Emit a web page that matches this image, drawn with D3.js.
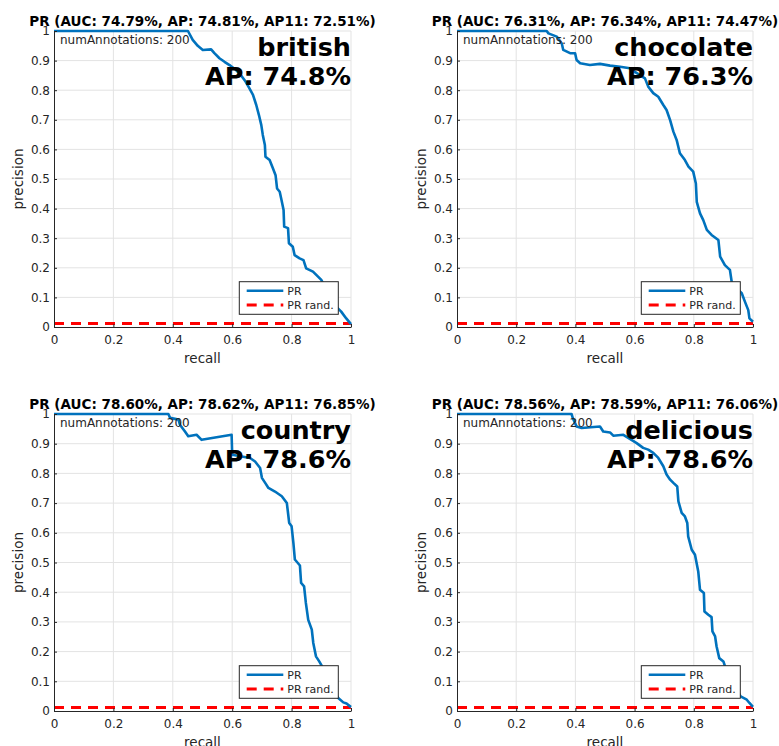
<!DOCTYPE html>
<html>
<head>
<meta charset="utf-8">
<script src="https://cdn.jsdelivr.net/npm/d3@7"></script>
<style>
	body { margin: 0; background: #fff; }
	text { font-family: "DejaVu Sans", sans-serif; }
</style>
</head>
<body>
<script>
// chart values
var categories = ["british", "chocolate", "country", "delicious"];
var aucValues = [74.79, 76.31, 78.60, 78.56];
var apValues = [74.81, 76.34, 78.62, 78.59];
var ap11Values = [72.51, 74.47, 76.85, 76.06];
var numAnnotations = [200, 200, 200, 200];
var randPrecision = 0.012;
var xTickValues = [0, 0.2, 0.4, 0.6, 0.8, 1];
var yTickValues = [0, 0.1, 0.2, 0.3, 0.4, 0.5, 0.6, 0.7, 0.8, 0.9, 1];

var britishRecall = [0, 0.451, 0.467, 0.484, 0.501, 0.529, 0.54, 0.557, 0.574, 0.591, 0.613, 0.63, 0.645, 0.658, 0.67, 0.681, 0.69, 0.698, 0.703, 0.71, 0.712, 0.726, 0.737, 0.746, 0.751, 0.76, 0.766, 0.773, 0.775, 0.788, 0.791, 0.804, 0.81, 0.827, 0.84, 0.849, 0.872, 0.889, 0.9, 0.915, 0.93, 0.946, 0.956, 0.967, 0.984, 1];
var britishPrecision = [1, 1, 0.97, 0.95, 0.936, 0.938, 0.925, 0.908, 0.896, 0.885, 0.868, 0.85, 0.829, 0.806, 0.784, 0.75, 0.716, 0.682, 0.649, 0.615, 0.575, 0.564, 0.536, 0.513, 0.468, 0.457, 0.429, 0.395, 0.339, 0.334, 0.283, 0.271, 0.243, 0.232, 0.226, 0.198, 0.187, 0.17, 0.159, 0.13, 0.1, 0.07, 0.063, 0.052, 0.029, 0.01];

var chocolateRecall = [0, 0.303, 0.309, 0.337, 0.354, 0.359, 0.382, 0.399, 0.404, 0.416, 0.449, 0.483, 0.517, 0.551, 0.584, 0.601, 0.618, 0.635, 0.646, 0.663, 0.68, 0.697, 0.708, 0.72, 0.731, 0.742, 0.753, 0.77, 0.782, 0.798, 0.807, 0.81, 0.821, 0.832, 0.844, 0.86, 0.883, 0.889, 0.905, 0.922, 0.928, 0.945, 0.962, 0.973, 0.984, 0.988, 1];
var chocolatePrecision = [1, 1, 0.992, 0.981, 0.958, 0.936, 0.925, 0.925, 0.902, 0.891, 0.885, 0.889, 0.883, 0.879, 0.874, 0.862, 0.851, 0.84, 0.812, 0.79, 0.778, 0.75, 0.733, 0.699, 0.66, 0.632, 0.587, 0.564, 0.542, 0.525, 0.485, 0.423, 0.384, 0.361, 0.328, 0.311, 0.294, 0.238, 0.209, 0.193, 0.153, 0.13, 0.114, 0.085, 0.057, 0.029, 0.018];

var countryRecall = [0, 0.385, 0.391, 0.419, 0.424, 0.441, 0.452, 0.48, 0.497, 0.598, 0.6, 0.632, 0.66, 0.677, 0.694, 0.7, 0.711, 0.722, 0.744, 0.767, 0.784, 0.792, 0.8, 0.806, 0.811, 0.828, 0.832, 0.842, 0.848, 0.856, 0.868, 0.873, 0.882, 0.893, 0.92, 0.94, 0.957, 0.974, 0.985, 1];
var countryPrecision = [1, 1, 0.987, 0.981, 0.964, 0.941, 0.925, 0.93, 0.913, 0.93, 0.863, 0.857, 0.852, 0.84, 0.818, 0.785, 0.768, 0.751, 0.739, 0.723, 0.7, 0.633, 0.622, 0.566, 0.51, 0.49, 0.431, 0.42, 0.364, 0.307, 0.274, 0.229, 0.184, 0.167, 0.12, 0.07, 0.044, 0.029, 0.025, 0.013];

var deliciousRecall = [0, 0.387, 0.391, 0.404, 0.421, 0.483, 0.494, 0.517, 0.528, 0.562, 0.584, 0.607, 0.629, 0.646, 0.663, 0.68, 0.697, 0.708, 0.72, 0.731, 0.744, 0.748, 0.759, 0.77, 0.778, 0.781, 0.793, 0.804, 0.815, 0.821, 0.834, 0.836, 0.849, 0.86, 0.863, 0.872, 0.877, 0.886, 0.9, 0.905, 0.93, 0.958, 0.979, 0.988, 1];
var deliciousPrecision = [1, 1, 0.987, 0.958, 0.953, 0.958, 0.941, 0.938, 0.927, 0.93, 0.916, 0.902, 0.886, 0.88, 0.869, 0.852, 0.824, 0.796, 0.779, 0.768, 0.756, 0.706, 0.667, 0.655, 0.633, 0.588, 0.543, 0.526, 0.47, 0.408, 0.397, 0.335, 0.324, 0.316, 0.268, 0.251, 0.217, 0.178, 0.167, 0.152, 0.1, 0.049, 0.038, 0.027, 0.014];

var recallSeries = [britishRecall, chocolateRecall, countryRecall, deliciousRecall];
var precisionSeries = [britishPrecision, chocolatePrecision, countryPrecision, deliciousPrecision];

function drawPlot() {
	var svg = d3.select("body").append("svg")
		.attr("width", 779)
		.attr("height", 746);
	var lefts = [54, 457], rights = [351, 753];
	var tops = [31, 414], bottoms = [327, 711];
	var axisColor = "#262626";

	categories.forEach(function(cat, i) {
		var col = i % 2, row = Math.floor(i / 2);
		var x = d3.scaleLinear().domain([0, 1]).range([lefts[col], rights[col]]);
		var y = d3.scaleLinear().domain([0, 1]).range([bottoms[row], tops[row]]);
		var g = svg.append("g");

		// grid
		g.selectAll(".vgrid").data(xTickValues.slice(1))
			.enter().append("line")
			.attr("x1", d => x(d)).attr("x2", d => x(d))
			.attr("y1", y(0)).attr("y2", y(1))
			.style("stroke", "#e3e3e3");
		g.selectAll(".hgrid").data(yTickValues.slice(1))
			.enter().append("line")
			.attr("x1", x(0)).attr("x2", x(1))
			.attr("y1", d => y(d)).attr("y2", d => y(d))
			.style("stroke", "#e3e3e3");

		var line = d3.line().x(d => x(d[0])).y(d => y(d[1]));

		// random baseline
		g.append("path")
			.datum([[0, randPrecision], [1, randPrecision]])
			.attr("d", line)
			.style("fill", "none")
			.style("stroke", "#ff0000")
			.style("stroke-width", 3)
			.style("stroke-dasharray", "10,7");

		// PR curve
		g.append("path")
			.datum(d3.zip(recallSeries[i], precisionSeries[i]))
			.attr("d", line)
			.style("fill", "none")
			.style("stroke", "#0072bd")
			.style("stroke-width", 2.6)
			.style("stroke-linejoin", "round");

		// axes
		var xAxis = g.append("g")
			.attr("transform", "translate(0," + y(0) + ")")
			.call(d3.axisBottom(x).tickValues(xTickValues).tickFormat(d3.format("~g"))
				.tickSize(-3).tickSizeOuter(0).tickPadding(8));
		var yAxis = g.append("g")
			.attr("transform", "translate(" + x(0) + ",0)")
			.call(d3.axisLeft(y).tickValues(yTickValues).tickFormat(d3.format("~g"))
				.tickSize(-3).tickSizeOuter(0).tickPadding(4));
		[xAxis, yAxis].forEach(function(a) {
			a.selectAll("path, line").style("stroke", axisColor);
			a.selectAll("text").style("fill", axisColor)
				.style("font-size", "12px")
				.style("font-family", "DejaVu Sans");
		});

		// axis labels
		g.append("text")
			.attr("x", (x(0) + x(1)) / 2)
			.attr("y", y(0) + 36)
			.attr("text-anchor", "middle")
			.style("font-size", "13.5px")
			.style("fill", axisColor)
			.text("recall");
		g.append("text")
			.attr("transform", "translate(" + (x(0) - 31) + "," + (y(0) + y(1)) / 2 + ")rotate(-90)")
			.attr("text-anchor", "middle")
			.style("font-size", "13.5px")
			.style("fill", axisColor)
			.text("precision");

		// title
		g.append("text")
			.attr("x", (x(0) + x(1)) / 2)
			.attr("y", y(1) - 5)
			.attr("text-anchor", "middle")
			.style("font-size", "13.5px")
			.style("font-weight", "bold")
			.text("PR (AUC: " + aucValues[i].toFixed(2) + "%, AP: " + apValues[i].toFixed(2) +
				"%, AP11: " + ap11Values[i].toFixed(2) + "%)");

		g.append("text")
			.attr("x", x(0) + 6)
			.attr("y", y(1) + 13.3)
			.style("font-size", "12px")
			.style("fill", axisColor)
			.text("numAnnotations: " + numAnnotations[i]);

		g.append("text")
			.attr("x", x(1))
			.attr("y", y(1) + 24.5)
			.attr("text-anchor", "end")
			.style("font-size", "25.5px")
			.style("font-weight", "bold")
			.text(cat);
		g.append("text")
			.attr("x", x(1))
			.attr("y", y(1) + 54)
			.attr("text-anchor", "end")
			.style("font-size", "25.5px")
			.style("font-weight", "bold")
			.text("AP: " + apValues[i].toFixed(1) + "%");

		// legend
		var lw = 99, lh = 32.6;
		var lx = x(1) - 12.7 - lw, ly = y(0) - 12.7 - lh;
		var leg = g.append("g").attr("transform", "translate(" + lx + "," + ly + ")");
		leg.append("rect")
			.attr("width", lw).attr("height", lh)
			.style("fill", "#fff")
			.style("stroke", axisColor);
		var items = [
			{label: "PR", color: "#0072bd", dash: null, w: 2.6, yy: 9},
			{label: "PR rand.", color: "#ff0000", dash: "10,7", w: 3, yy: 23.3}
		];
		items.forEach(function(it) {
			leg.append("line")
				.attr("x1", 7.4).attr("x2", 44)
				.attr("y1", it.yy).attr("y2", it.yy)
				.style("stroke", it.color)
				.style("stroke-width", it.w)
				.style("stroke-dasharray", it.dash);
			leg.append("text")
				.attr("x", 48).attr("y", it.yy)
				.attr("dy", "0.35em")
				.style("font-size", "11px")
				.style("fill", axisColor)
				.text(it.label);
		});
	});
}
drawPlot();
</script>
</body>
</html>
